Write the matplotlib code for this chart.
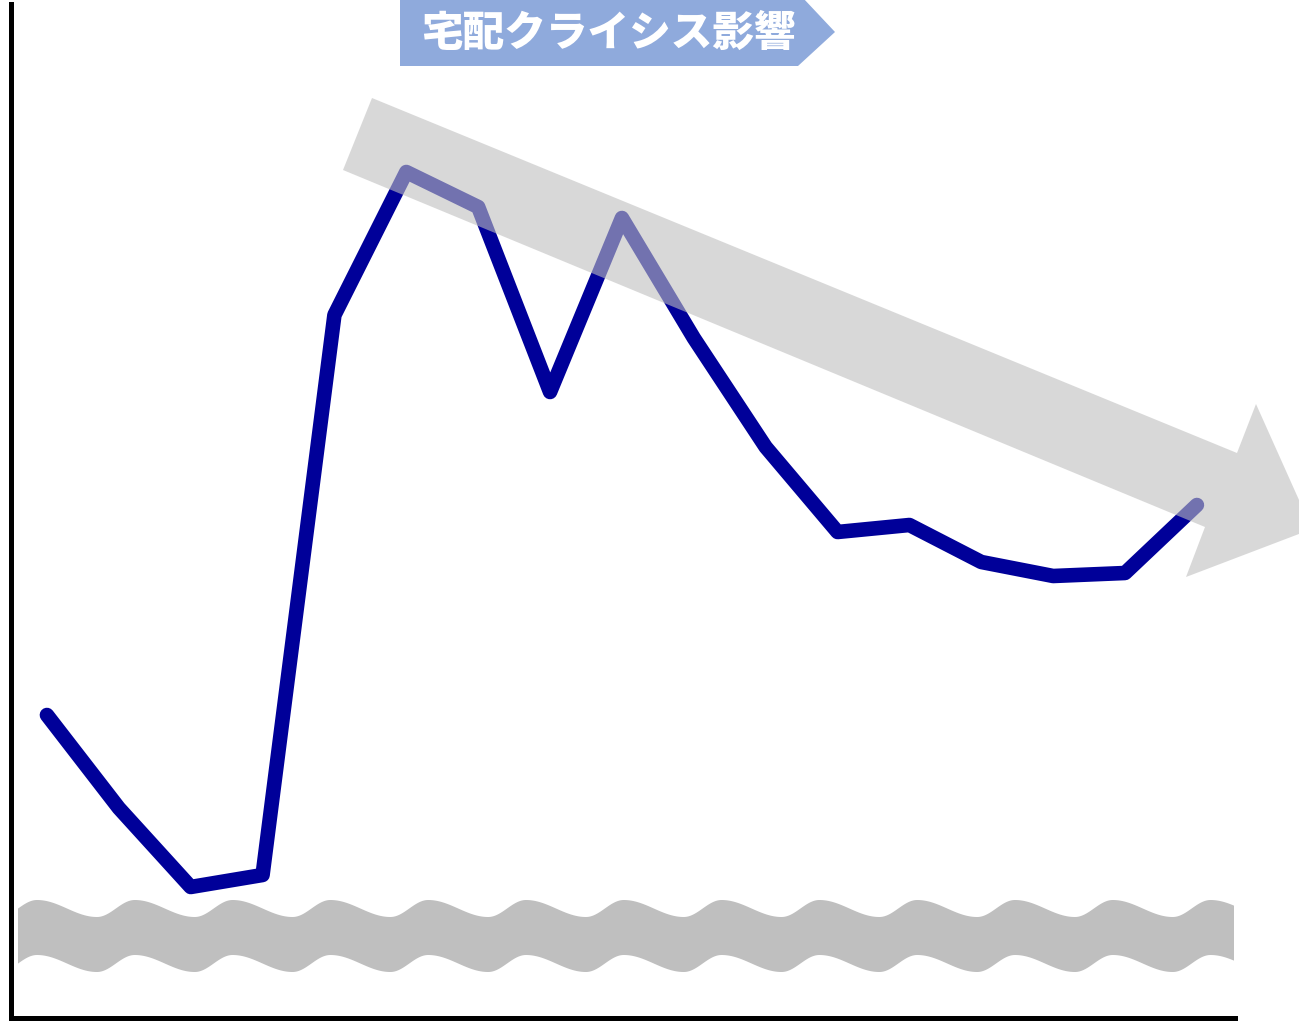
import numpy as np
import matplotlib
matplotlib.use("Agg")
import matplotlib.pyplot as plt
from matplotlib.patches import Polygon

plt.rcParams['font.family'] = ['Noto Sans CJK JP', 'DejaVu Sans']

# data (arbitrary index units)
periods = list(range(17))
values = [30.3, 21.0, 13.1, 14.3, 70.3, 84.6, 81.1, 62.6, 80.0,
          68.0, 57.1, 48.6, 49.3, 45.6, 44.2, 44.5, 51.3]
label_text = "宅配クライシス影響"

W, H = 1299, 1022
fig = plt.figure(figsize=(W / 100, H / 100), dpi=100)


def px(x, y):
    # pixel coords (origin top-left) -> figure fraction
    return (x / W, 1 - y / H)


ax = fig.add_axes([11 / W, 4 / H, 1224 / W, 1014 / H])
ax.plot(periods, values, color='#000099', lw=10.5, solid_capstyle='round',
        solid_joinstyle='round', zorder=3)
ax.set_xlim(-0.5, 16.53)
ax.set_ylim(0, 101.4)
ax.set_xticks([])
ax.set_yticks([])
for s in ['top', 'right']:
    ax.spines[s].set_visible(False)
for s in ['left', 'bottom']:
    ax.spines[s].set_linewidth(3.6)
    ax.spines[s].set_color('black')

# wavy break band near the bottom (slow fall, quick rise)
xs = np.linspace(18, 1234, 1200)
u = np.mod(xs - 37, 97.8)
top = np.where(u < 60, 908.5 - 8.5 * np.cos(np.pi * u / 60),
               908.5 + 8.5 * np.cos(np.pi * (u - 60) / 37.8))
bot = top + 55
pts = [px(x, y) for x, y in zip(xs, top)] + [px(x, y) for x, y in zip(xs[::-1], bot[::-1])]
fig.patches.append(Polygon(pts, closed=True, transform=fig.transFigure,
                           facecolor='#bfbfbf', edgecolor='none', zorder=2))

# big translucent trend arrow
arrow = [(372, 98), (1237, 453), (1256, 404), (1312, 529),
         (1186, 577), (1205, 527), (343, 170)]
fig.patches.append(Polygon([px(x, y) for x, y in arrow], closed=True,
                           transform=fig.transFigure, facecolor='#bfbfbf',
                           alpha=0.6, edgecolor='none', zorder=5))

# label tag
tag = [(400, -2), (803, -2), (835, 32), (798, 66), (400, 66)]
fig.patches.append(Polygon([px(x, y) for x, y in tag], closed=True,
                           transform=fig.transFigure, facecolor='#8faadc',
                           edgecolor='none', zorder=6))
fig.text(*px(608, 34), label_text, color='white', fontsize=30,
         fontweight='black', ha='center', va='center', zorder=7)

fig.savefig("out.png", dpi=100)
